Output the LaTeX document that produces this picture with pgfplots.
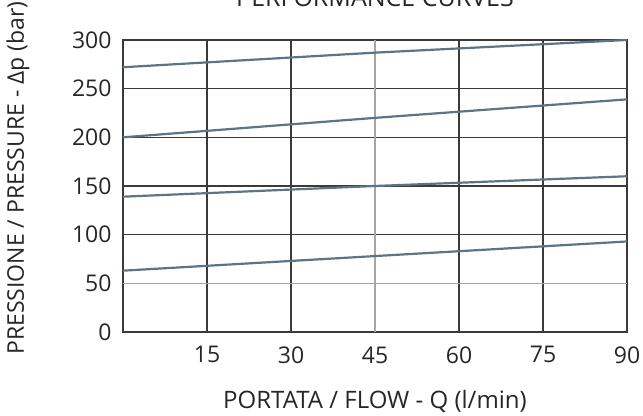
\documentclass[border=0pt]{standalone}
\usepackage{fontspec}
\setmainfont{Open Sans}
\usepackage{pgfplots}
\pgfplotsset{compat=1.18}
\definecolor{curve}{HTML}{5E7483}
\definecolor{gridd}{HTML}{3A3A3A}
\begin{document}
\begin{tikzpicture}
\begin{axis}[
  scale only axis,
  width=504pt, height=292pt,
  xmin=0, xmax=90, ymin=0, ymax=300,
  xtick={15,30,60,75,90},
  ytick={0,100,150,200,250,300},
  extra x ticks={45},
  extra y ticks={50},
  extra tick style={grid style={gray!70, line width=1.1pt}},
  major tick length=0pt,
  /pgf/number format/assume math mode=true,
  ticklabel style={font=\fontsize{23}{26}\selectfont, text=black!85},
  yticklabel style={xshift=-8pt},
  xticklabel style={yshift=-11pt},
  xmajorgrids, ymajorgrids,
  grid style={gridd, line width=1.1pt},
  axis line style={gridd, line width=1.1pt},
]
\addplot[curve, line width=2.2pt] coordinates {(0,272) (45,287) (90,300)};
\addplot[curve, line width=2.2pt] coordinates {(0,200) (45,220) (90,239)};
\addplot[curve, line width=2.2pt] coordinates {(0,139) (45,150) (90,160)};
\addplot[curve, line width=2.2pt] coordinates {(0,63) (45,78) (90,93)};
\end{axis}
\node[font=\fontsize{24}{27}\selectfont, text=black!85] at ([yshift=-69pt]current axis.south) {PORTATA / FLOW - Q (l/min)};
\node[rotate=90, font=\fontsize{23}{26}\selectfont, text=black!85] at ([xshift=-105pt,yshift=8pt]current axis.west) {PRESSIONE / PRESSURE - Δp (bar)};
\node[anchor=base, font=\fontsize{25}{28}\selectfont, text=black!85] at ([yshift=33pt]current axis.north) {PERFORMANCE CURVES};
\pgfresetboundingbox
\path[use as bounding box] ([xshift=-123pt,yshift=-84pt]current axis.south west) rectangle ([xshift=16pt,yshift=40pt]current axis.north east);
\end{tikzpicture}
\end{document}
